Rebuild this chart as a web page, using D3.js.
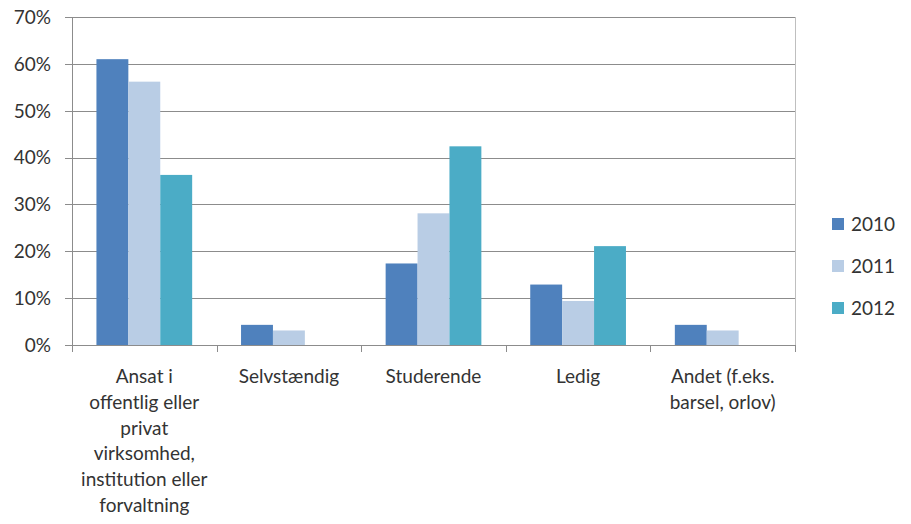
<!DOCTYPE html>
<html lang="da">
<head>
<meta charset="utf-8">
<title>Beskæftigelse</title>
<script src="https://cdn.jsdelivr.net/npm/d3@7"></script>
<style>
  html, body { margin:0; padding:0; background:#fff; overflow:hidden }
  text { font-family: Lato, "Open Sans", sans-serif; fill:#333; }
</style>
</head>
<body>
<svg id="chart" width="911" height="524"></svg>
<script>
// data
var categories = [
  ["Ansat i", "offentlig eller", "privat", "virksomhed,", "institution eller", "forvaltning"],
  ["Selvstændig"],
  ["Studerende"],
  ["Ledig"],
  ["Andet (f.eks.", "barsel, orlov)"]
];
var years = ["2010", "2011", "2012"];
var v2010 = [61.0, 4.3, 17.4, 12.9, 4.3];
var v2011 = [56.2, 3.1, 28.1, 9.4, 3.1];
var v2012 = [36.3, 0, 42.4, 21.1, 0];
var yTicks = [0, 10, 20, 30, 40, 50, 60, 70];
var colors = ["#4f81bd", "#b9cde5", "#4bacc6"];

var series = [v2010, v2011, v2012];

// plot area (note: "top" is reserved on window, so use a margin object)
var plot = {l: 72, r: 795, t: 17, b: 345};
var fs = 19;
var svg = d3.select("#chart");

var x0 = d3.scaleBand()
  .domain(d3.range(categories.length))
  .range([plot.l, plot.r])
  .paddingInner(0.338)
  .paddingOuter(0.169);
var x1 = d3.scaleBand()
  .domain(years)
  .range([0, x0.bandwidth()]);
var y = d3.scaleLinear().domain([0, 70]).range([plot.b, plot.t]);

// gridlines
svg.append("g")
  .selectAll("line")
  .data(yTicks)
  .enter().append("line")
  .attr("x1", plot.l - 7).attr("x2", plot.r)
  .attr("y1", function(d) { return Math.round(y(d)) + 0.5; })
  .attr("y2", function(d) { return Math.round(y(d)) + 0.5; })
  .attr("stroke", "#8c8c8c").attr("stroke-width", 1);

// y labels
svg.append("g")
  .selectAll("text")
  .data(yTicks)
  .enter().append("text")
  .attr("x", 51)
  .attr("y", function(d) { return y(d); })
  .attr("dy", "0.36em")
  .attr("text-anchor", "end")
  .attr("font-size", fs)
  .text(function(d) { return d + "%"; });

// axes lines
svg.append("line")
  .attr("x1", plot.l + 0.5).attr("x2", plot.l + 0.5)
  .attr("y1", plot.t).attr("y2", plot.b + 7)
  .attr("stroke", "#8c8c8c");
svg.append("line")
  .attr("x1", plot.r + 0.5).attr("x2", plot.r + 0.5)
  .attr("y1", plot.t).attr("y2", plot.b)
  .attr("stroke", "#bfbfbf");

var step = x0.step();
svg.append("g")
  .selectAll("line")
  .data(d3.range(1, categories.length + 1))
  .enter().append("line")
  .attr("x1", function(i) { return Math.round(plot.l + i * step) + 0.5; })
  .attr("x2", function(i) { return Math.round(plot.l + i * step) + 0.5; })
  .attr("y1", plot.b).attr("y2", plot.b + 7)
  .attr("stroke", "#8c8c8c");

// bars
var groups = svg.append("g")
  .selectAll("g")
  .data(categories)
  .enter().append("g")
  .attr("transform", function(d, i) { return "translate(" + x0(i) + ",0)"; });

groups.selectAll("rect")
  .data(function(d, i) {
    return years.map(function(yr, k) { return {year: yr, k: k, v: series[k][i]}; })
      .filter(function(d) { return d.v > 0; });
  })
  .enter().append("rect")
  .attr("x", function(d) { return x1(d.year); })
  .attr("width", x1.bandwidth())
  .attr("y", function(d) { return y(d.v); })
  .attr("height", function(d) { return y(0) - y(d.v); })
  .attr("fill", function(d) { return colors[d.k]; });

// category labels
var labels = svg.append("g")
  .selectAll("text")
  .data(categories)
  .enter().append("text")
  .attr("x", function(d, i) { return x0(i) + x0.bandwidth() / 2; })
  .attr("y", 383)
  .attr("text-anchor", "middle")
  .attr("font-size", fs);
labels.selectAll("tspan")
  .data(function(d) { return d; })
  .enter().append("tspan")
  .attr("x", function() { return this.parentNode.getAttribute("x"); })
  .attr("dy", function(d, i) { return i === 0 ? 0 : 25.8; })
  .text(function(d) { return d; });

// legend
var legend = svg.append("g")
  .selectAll("g")
  .data(years)
  .enter().append("g")
  .attr("transform", function(d, i) { return "translate(832," + (224 + i * 42) + ")"; });
legend.append("rect")
  .attr("x", 0).attr("y", -6)
  .attr("width", 12).attr("height", 12)
  .attr("fill", function(d, i) { return colors[i]; });
legend.append("text")
  .attr("x", 19).attr("y", 0)
  .attr("dy", "0.36em")
  .attr("font-size", fs)
  .text(function(d) { return d; });
</script>
</body>
</html>
